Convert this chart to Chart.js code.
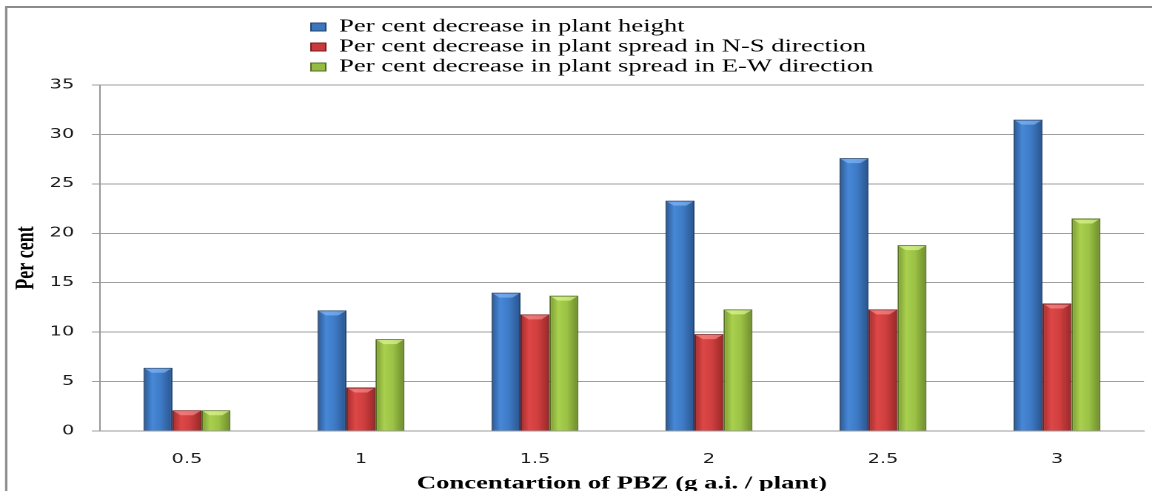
<!DOCTYPE html>
<html>
<head>
<meta charset="utf-8">
<script src="https://cdn.jsdelivr.net/npm/chart.js@4.4.1/dist/chart.umd.min.js"></script>
<style>
  html, body { margin: 0; padding: 0; background: #ffffff; overflow: hidden; }
  #wrap { position: absolute; left: 0; top: 0; transform-origin: 0 0; }
</style>
</head>
<body>
<div id="wrap"><canvas id="c"></canvas></div>
<script>
// ---- data ----
const categories = ['0.5', '1', '1.5', '2', '2.5', '3'];
const heightDecrease = [6.4, 12.2, 14.0, 23.3, 27.6, 31.5];
const spreadNS = [2.1, 4.4, 11.8, 9.8, 12.3, 12.9];
const spreadEW = [2.1, 9.3, 13.7, 12.3, 18.8, 21.5];
const seriesLabels = [
  'Per cent decrease in plant height',
  'Per cent decrease in plant spread in N-S direction',
  'Per cent decrease in plant spread in E-W direction'
];
const yMin = 0, yMax = 35, yStep = 5;
const xTitle = 'Concentartion of PBZ (g a.i. / plant)';
const yTitle = 'Per cent';

// ---- page geometry (reference is a horizontally stretched image) ----
const W = 778, H = 491, S = 1152 / W;
const wrap = document.getElementById('wrap');
const canvas = document.getElementById('c');
wrap.style.width = W + 'px';
wrap.style.height = H + 'px';
wrap.style.transform = 'scaleX(' + S + ')';
canvas.width = W; canvas.height = H;
canvas.style.width = W + 'px'; canvas.style.height = H + 'px';

const CAT_PCT = 0.5;
const styles = [
  { flat: '#3d76bf', border: '#24466f', bevel: 'rgba(140,190,255,0.6)',
    stops: [[0, '#2c5892'], [0.3, '#4788d7'], [0.6, '#3e7bc6'], [1, '#2a548c']] },
  { flat: '#c93a3a', border: '#7a1f1f', bevel: 'rgba(255,150,150,0.6)',
    stops: [[0, '#a22c2c'], [0.3, '#de4747'], [0.6, '#cf3f3f'], [1, '#992828']] },
  { flat: '#95bb44', border: '#566e20', bevel: 'rgba(225,250,150,0.65)',
    stops: [[0, '#7a9a33'], [0.3, '#a9d04e'], [0.6, '#9cc246'], [1, '#6d8b2b']] }
];

function barFill(st) {
  return (c) => {
    const chart = c.chart, xs = chart.scales && chart.scales.x;
    if (c.type !== 'data' || !xs || !chart.chartArea) return st.flat;
    const nCat = chart.data.labels.length, nDs = chart.data.datasets.length;
    const cat = (xs.right - xs.left) / nCat;
    const w = cat * CAT_PCT / nDs;
    const left = xs.getPixelForValue(c.dataIndex) - w * nDs / 2 + c.datasetIndex * w;
    if (!isFinite(left) || !isFinite(w) || w <= 0) return st.flat;
    const g = chart.ctx.createLinearGradient(left, 0, left + w, 0);
    st.stops.forEach(([o, col]) => g.addColorStop(o, col));
    return g;
  };
}

const seriesValues = [heightDecrease, spreadNS, spreadEW];
const datasets = seriesValues.map((vals, i) => ({
  label: seriesLabels[i],
  data: vals,
  backgroundColor: barFill(styles[i]),
  borderColor: styles[i].border,
  borderWidth: 1,
  categoryPercentage: CAT_PCT,
  barPercentage: 1.0
}));

const bevelPlugin = {
  id: 'bevel',
  afterDatasetsDraw(chart) {
    const ctx = chart.ctx;
    chart.data.datasets.forEach((ds, i) => {
      const meta = chart.getDatasetMeta(i);
      meta.data.forEach(el => {
        const p = el.getProps(['x', 'y', 'width', 'base'], true);
        const h = Math.min(5, p.base - p.y);
        const l = p.x - p.width / 2, r = p.x + p.width / 2;
        ctx.save();
        ctx.beginPath();
        ctx.moveTo(l + 1, p.y + 1);
        ctx.lineTo(r - 1, p.y + 1);
        ctx.lineTo(r - p.width * 0.28, p.y + h);
        ctx.lineTo(l + p.width * 0.28, p.y + h);
        ctx.closePath();
        ctx.fillStyle = styles[i].bevel;
        ctx.fill();
        ctx.restore();
      });
    });
  }
};

const legendPlace = {
  id: 'legendPlace',
  afterLayout(chart) {
    const lg = chart.legend;
    if (!lg) return;
    lg.left = 208; lg.right = 608;
    lg.top = 16; lg.bottom = 86;
  }
};

const framePlugin = {
  id: 'frame',
  afterDraw(chart) {
    const ctx = chart.ctx;
    ctx.save();
    ctx.strokeStyle = '#8c8c8c';
    ctx.lineWidth = 2;
    ctx.beginPath();
    ctx.moveTo(4, 7); ctx.lineTo(W, 7);
    ctx.stroke();
    ctx.lineWidth = 1.6;
    ctx.beginPath();
    ctx.moveTo(4.2, 6); ctx.lineTo(4.2, H);
    ctx.stroke();
    ctx.restore();
  }
};

new Chart(canvas, {
  type: 'bar',
  data: { labels: categories, datasets },
  plugins: [bevelPlugin, legendPlace, framePlugin],
  options: {
    responsive: false,
    animation: false,
    devicePixelRatio: 2,
    events: [],
    layout: { padding: { top: 35, left: 0, right: 5.4, bottom: 0 } },
    plugins: {
      tooltip: { enabled: false },
      legend: {
        display: true,
        position: 'top',
        align: 'start',
        labels: {
          boxWidth: 10,
          boxHeight: 8,
          padding: 2,
          font: { family: "'Liberation Serif', 'Times New Roman', serif", size: 18 },
          color: '#000',
          generateLabels: (chart) => chart.data.datasets.map((ds, i) => ({
            text: ds.label,
            fillStyle: styles[i].flat,
            strokeStyle: styles[i].border,
            lineWidth: 1,
            fontColor: '#000',
            hidden: false,
            datasetIndex: i
          }))
        }
      }
    },
    scales: {
      x: {
        offset: true,
        grid: { display: false, drawTicks: false },
        border: { display: true, color: '#9a9a9a', width: 1 },
        ticks: {
          padding: 21,
          color: '#1a1a1a',
          font: { family: "'DejaVu Sans', sans-serif", size: 13 }
        },
        title: {
          display: true,
          text: xTitle,
          color: '#000',
          padding: { top: 0, bottom: 0 },
          font: { family: "'Liberation Serif', 'Times New Roman', serif", size: 18, weight: 'bold', lineHeight: 0.78 }
        },
        afterFit: (scale) => { scale.height = 60; }
      },
      y: {
        min: yMin,
        max: yMax,
        ticks: {
          stepSize: yStep,
          padding: 12,
          color: '#1a1a1a',
          font: { family: "'DejaVu Sans', sans-serif", size: 13 }
        },
        grid: { color: '#9e9e9e', lineWidth: 1, drawTicks: true, tickLength: 5.4 },
        border: { display: true, color: '#9a9a9a', width: 1 },
        title: {
          display: true,
          text: yTitle,
          color: '#000',
          padding: { top: 7, bottom: 0 },
          font: { family: "'Liberation Serif', 'Times New Roman', serif", size: 18, weight: 'bold', lineHeight: 1.2 }
        },
        afterFit: (scale) => { scale.width = 67.5; }
      }
    }
  }
});
</script>
</body>
</html>
